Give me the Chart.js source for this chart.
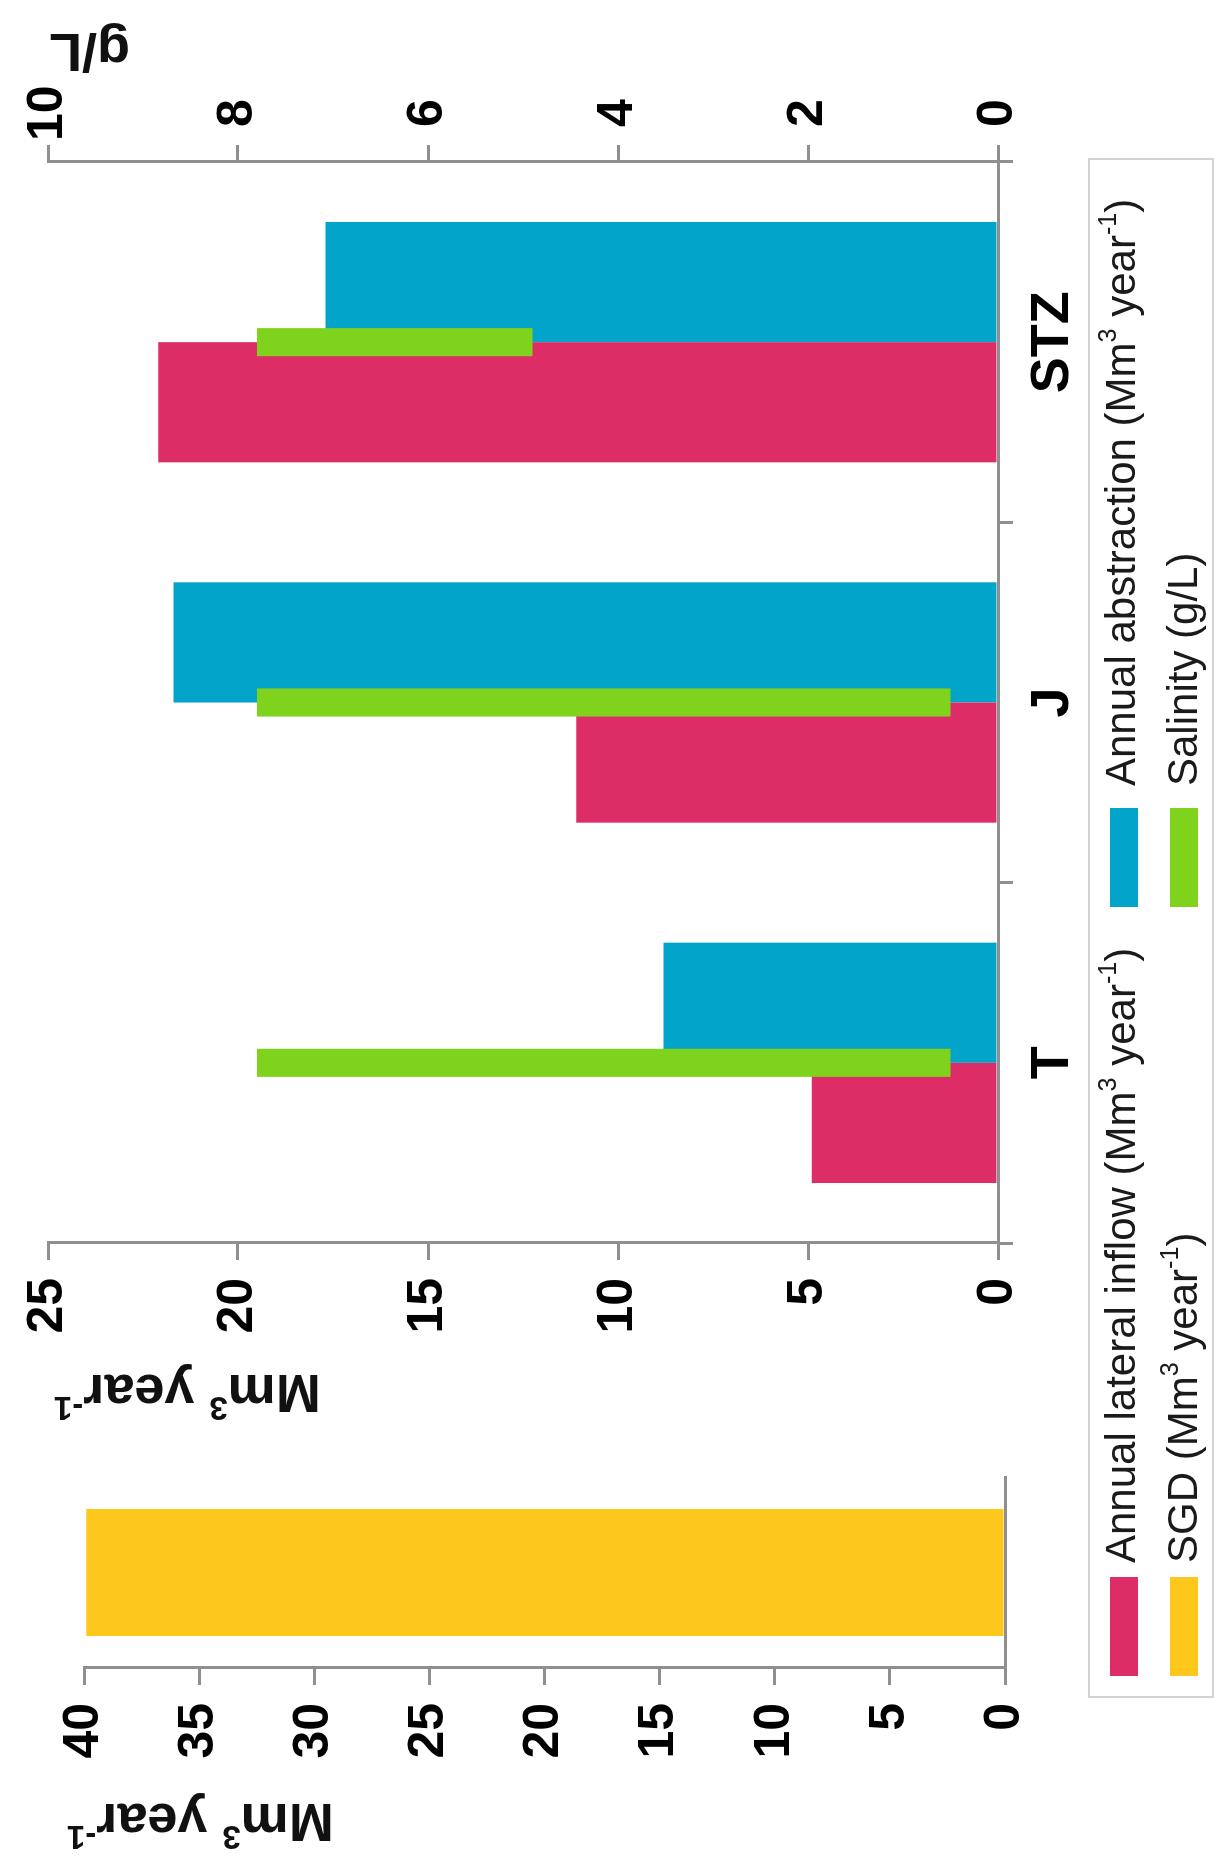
<!DOCTYPE html>
<html>
<head>
<meta charset="utf-8">
<script src="https://cdn.jsdelivr.net/npm/chart.js@4.4.1/dist/chart.umd.min.js"></script>
<style>
  html, body { margin:0; padding:0; background:#fff; }
  body { width:1219px; height:1861px; overflow:hidden; position:relative; }
  #fig { position:absolute; left:0; top:0; width:1861px; height:1219px; transform-origin:0 0;
         transform:translate(0px,1861px) rotate(-90deg); background:#fff; }
  #fig canvas { position:absolute; top:0; }
  #cSgd { left:0; }
  #cMain { left:380px; }
  #legend { position:absolute; left:163px; top:1088px; width:1540px; height:126px; box-sizing:border-box;
            border:2px solid #d2d2d2; font-family:"Liberation Sans", Arial, sans-serif; font-size:42px; color:#1a1a1a; }
  .sw { position:absolute; width:99px; height:28px; }
  .lt { position:absolute; white-space:nowrap; line-height:42px; }
  .lt sup { font-size:60%; position:relative; top:-0.75em; vertical-align:baseline; line-height:0; }
</style>
</head>
<body>
<div id="fig">
  <canvas id="cSgd" width="480" height="1090"></canvas>
  <canvas id="cMain" width="1481" height="1090"></canvas>
  <div id="legend"></div>
</div>
<script>
// ---------- data ----------
const categories = ['T', 'J', 'STZ'];
const inflow = [4.9, 11.1, 22.1];            // Mm3/year
const abstraction = [8.8, 21.7, 17.7];       // Mm3/year
const salinityMin = [0.5, 0.5, 4.9];         // g/L
const salinityMax = [7.8, 7.8, 7.8];         // g/L
const sgdCategories = ['SGD'];
const sgd = [39.9];                          // Mm3/year
const mainTicksLeft = [0, 5, 10, 15, 20, 25];
const mainTicksRight = [0, 2, 4, 6, 8, 10];
const sgdTicks = [0, 5, 10, 15, 20, 25, 30, 35, 40];
const legendLabels = ['Annual lateral inflow', 'Annual abstraction', 'SGD', 'Salinity'];
const legendUnits = ['(Mm<sup>3</sup> year<sup>-1</sup>)', '(Mm<sup>3</sup> year<sup>-1</sup>)', '(Mm<sup>3</sup> year<sup>-1</sup>)', '(g/L)'];
const legendColors = ['#dc2d66', '#03a4c9', '#fdc71b', '#7fd31c'];

// ---------- style ----------
const COL = { inflow: '#dc2d66', abstraction: '#03a4c9', sgd: '#fdc71b', salinity: '#7fd31c' };
const GRAY = '#8f8f8f';
const FONT = '"Liberation Sans", Arial, Helvetica, sans-serif';
const tickFont = { family: FONT, size: 50, weight: 'bold' };
const unitRuns = [{ t: 'Mm' }, { t: '3', sup: true }, { t: ' year' }, { t: '-1', sup: true }];

function makeTitles(items) {
  return {
    id: 'rotTitles',
    afterDraw(chart) {
      const ctx = chart.ctx;
      items.forEach(it => {
        const sc = chart.scales[it.scale];
        const x = it.side === 'left' ? sc.right - it.offset : sc.left + it.offset;
        const yTop = sc.getPixelForValue(sc.max) + it.dy;
        ctx.save();
        ctx.fillStyle = '#111';
        ctx.textBaseline = 'alphabetic';
        ctx.textAlign = 'left';
        let total = 0;
        const runs = it.runs.map(r => {
          const f = 'bold ' + (r.sup ? it.supSize : it.size) + 'px ' + FONT;
          ctx.font = f;
          const w = ctx.measureText(r.t).width;
          total += w;
          return { t: r.t, sup: r.sup, f: f, w: w };
        });
        ctx.translate(x, yTop + total);
        ctx.rotate(-Math.PI / 2);
        let cx = 0;
        runs.forEach(r => {
          ctx.font = r.f;
          ctx.fillText(r.t, cx, r.sup ? -it.size * 0.4 : 0);
          cx += r.w;
        });
        ctx.restore();
      });
    }
  };
}

// ---------- SGD panel ----------
new Chart(document.getElementById('cSgd'), {
  type: 'bar',
  data: {
    labels: sgdCategories,
    datasets: [{ label: 'SGD', data: sgd, backgroundColor: COL.sgd, borderWidth: 0,
                 categoryPercentage: 0.665, barPercentage: 1 }]
  },
  options: {
    responsive: false, animation: false,
    layout: { padding: { top: 84, right: 96, left: 0, bottom: 0 } },
    plugins: { legend: { display: false }, tooltip: { enabled: false } },
    scales: {
      x: { type: 'category', offset: true,
           grid: { display: true, drawOnChartArea: false, drawTicks: false, color: GRAY },
           border: { display: true, color: GRAY, width: 3 },
           ticks: { display: false },
           afterFit: s => { s.height = 85; } },
      y: { type: 'linear', min: 0, max: 40,
           afterBuildTicks: s => { s.ticks = sgdTicks.map(v => ({ value: v })); },
           ticks: { font: tickFont, color: '#000', padding: 18 },
           grid: { drawOnChartArea: false, tickLength: 17, color: GRAY, lineWidth: 3 },
           border: { color: GRAY, width: 3 },
           afterFit: s => { s.width = 193; } }
    }
  },
  plugins: [makeTitles([{ scale: 'y', side: 'left', offset: 136, dy: -17, size: 54, supSize: 33, runs: unitRuns }])]
});

// ---------- main panel ----------
new Chart(document.getElementById('cMain'), {
  type: 'bar',
  data: {
    labels: categories,
    datasets: [
      { label: 'Salinity', data: salinityMin.map((v, i) => [v, salinityMax[i]]), backgroundColor: COL.salinity,
        borderWidth: 0, yAxisID: 'y1', grouped: false, categoryPercentage: 1, barPercentage: 0.078 },
      { label: 'Annual lateral inflow', data: inflow, backgroundColor: COL.inflow, borderWidth: 0,
        yAxisID: 'y', categoryPercentage: 0.667, barPercentage: 1 },
      { label: 'Annual abstraction', data: abstraction, backgroundColor: COL.abstraction, borderWidth: 0,
        yAxisID: 'y', categoryPercentage: 0.667, barPercentage: 1 }
    ]
  },
  options: {
    responsive: false, animation: false,
    layout: { padding: { top: 43, right: 0, left: 0, bottom: 0 } },
    plugins: { legend: { display: false }, tooltip: { enabled: false } },
    scales: {
      x: { type: 'category', offset: true, position: 'bottom',
           grid: { offset: true, drawOnChartArea: false, tickLength: 15, color: GRAY, lineWidth: 3 },
           border: { display: true, color: GRAY, width: 3 },
           ticks: { font: { family: FONT, size: 54, weight: 'bold' }, color: '#000', padding: 8 },
           afterFit: s => { s.height = 92; } },
      y: { type: 'linear', position: 'left', min: 0, max: 25,
           afterBuildTicks: s => { s.ticks = mainTicksLeft.map(v => ({ value: v })); },
           ticks: { font: tickFont, color: '#000', padding: 18 },
           grid: { drawOnChartArea: false, tickLength: 17, color: GRAY, lineWidth: 3 },
           border: { color: GRAY, width: 3 },
           afterFit: s => { s.width = 238; } },
      y1: { type: 'linear', position: 'right', min: 0, max: 10,
           afterBuildTicks: s => { s.ticks = mainTicksRight.map(v => ({ value: v })); },
           ticks: { font: tickFont, color: '#000', padding: 4, crossAlign: 'center' },
           grid: { drawOnChartArea: false, tickLength: 17, color: GRAY, lineWidth: 3 },
           border: { color: GRAY, width: 3 },
           afterFit: s => { s.width = 162; } }
    }
  },
  plugins: [makeTitles([
    { scale: 'y', side: 'left', offset: 132, dy: 6, size: 54, supSize: 33, runs: unitRuns },
    { scale: 'y1', side: 'right', offset: 128, dy: 1, size: 54, supSize: 33, runs: [{ t: 'g/L' }] }
  ])]
});

// ---------- legend (2 x 2 grid) ----------
const legend = document.getElementById('legend');
const swLeft = [20, 789], txtLeft = [133, 910], swTop = [20, 80], txtTop = [9.5, 71.5];
legendLabels.forEach((lab, i) => {
  const col = i % 2, row = Math.floor(i / 2);
  const sw = document.createElement('div');
  sw.className = 'sw';
  sw.style.left = swLeft[col] + 'px';
  sw.style.top = swTop[row] + 'px';
  sw.style.background = legendColors[i];
  legend.appendChild(sw);
  const t = document.createElement('div');
  t.className = 'lt';
  t.style.left = txtLeft[col] + 'px';
  t.style.top = txtTop[row] + 'px';
  t.innerHTML = lab + ' ' + legendUnits[i];
  legend.appendChild(t);
});
</script>
</body>
</html>
